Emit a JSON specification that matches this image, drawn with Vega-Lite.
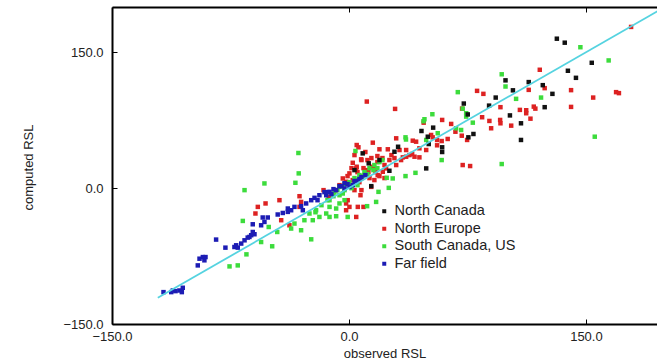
{
  "$schema": "https://vega.github.io/schema/vega-lite/v6.json",
  "width": 545,
  "height": 317,
  "autosize": "none",
  "padding": {"left": 112, "top": 7, "right": 0, "bottom": 38},
  "background": "white",
  "config": {
    "view": {"stroke": null},
    "font": "Liberation Sans",
    "axis": {
      "domainColor": "#000000",
      "domainWidth": 2,
      "tickColor": "#000000",
      "tickWidth": 1,
      "tickSize": -5,
      "grid": false,
      "labelFont": "Liberation Sans",
      "labelFontSize": 13,
      "labelColor": "#222222",
      "labelFlush": false,
      "titleFont": "Liberation Sans",
      "titleFontSize": 13,
      "titleFontWeight": "normal",
      "titleColor": "#222222"
    },
    "legend": {
      "labelFont": "Liberation Sans",
      "labelFontSize": 14.5,
      "labelColor": "#222222",
      "symbolType": "square",
      "symbolSize": 16,
      "symbolStrokeWidth": 0,
      "rowPadding": 2.5,
      "labelOffset": 3,
      "padding": 0
    }
  },
  "datasets": {
    "pts": [
      {"observed": 178.6, "computed": 178.0, "region": "North Europe"},
      {"observed": 120.8, "computed": 130.7, "region": "North Europe"},
      {"observed": 113.8, "computed": 108.5, "region": "North Europe"},
      {"observed": 123.9, "computed": 110.4, "region": "North Europe"},
      {"observed": 140.6, "computed": 108.2, "region": "North Europe"},
      {"observed": 169.1, "computed": 106.0, "region": "North Europe"},
      {"observed": 170.9, "computed": 104.9, "region": "North Europe"},
      {"observed": 154.6, "computed": 100.0, "region": "North Europe"},
      {"observed": 140.6, "computed": 89.7, "region": "North Europe"},
      {"observed": 117.0, "computed": 90.0, "region": "North Europe"},
      {"observed": 118.0, "computed": 87.8, "region": "North Europe"},
      {"observed": 112.2, "computed": 86.0, "region": "North Europe"},
      {"observed": 112.2, "computed": 82.7, "region": "North Europe"},
      {"observed": 114.9, "computed": 76.7, "region": "North Europe"},
      {"observed": 108.2, "computed": 86.4, "region": "North Europe"},
      {"observed": 81.1, "computed": 107.4, "region": "North Europe"},
      {"observed": 85.1, "computed": 104.1, "region": "North Europe"},
      {"observed": 95.9, "computed": 89.4, "region": "North Europe"},
      {"observed": 102.7, "computed": 69.0, "region": "North Europe"},
      {"observed": 84.3, "computed": 78.3, "region": "North Europe"},
      {"observed": 88.9, "computed": 74.2, "region": "North Europe"},
      {"observed": 95.7, "computed": 75.3, "region": "North Europe"},
      {"observed": 95.9, "computed": 71.6, "region": "North Europe"},
      {"observed": 90.0, "computed": 66.1, "region": "North Europe"},
      {"observed": 59.0, "computed": 75.3, "region": "North Europe"},
      {"observed": 64.7, "computed": 70.9, "region": "North Europe"},
      {"observed": 47.3, "computed": 72.3, "region": "North Europe"},
      {"observed": 71.4, "computed": 57.9, "region": "North Europe"},
      {"observed": 67.4, "computed": 62.3, "region": "North Europe"},
      {"observed": 62.5, "computed": 54.3, "region": "North Europe"},
      {"observed": 55.8, "computed": 53.2, "region": "North Europe"},
      {"observed": 53.0, "computed": 56.1, "region": "North Europe"},
      {"observed": 40.4, "computed": 52.4, "region": "North Europe"},
      {"observed": 42.5, "computed": 51.3, "region": "North Europe"},
      {"observed": 36.2, "computed": 42.1, "region": "North Europe"},
      {"observed": 38.3, "computed": 36.5, "region": "North Europe"},
      {"observed": 41.5, "computed": 34.7, "region": "North Europe"},
      {"observed": 44.6, "computed": 34.0, "region": "North Europe"},
      {"observed": 34.1, "computed": 34.0, "region": "North Europe"},
      {"observed": 55.8, "computed": 47.3, "region": "North Europe"},
      {"observed": 58.7, "computed": 52.0, "region": "North Europe"},
      {"observed": 74.8, "computed": 53.2, "region": "North Europe"},
      {"observed": 72.0, "computed": 25.5, "region": "North Europe"},
      {"observed": 76.7, "computed": 24.4, "region": "North Europe"},
      {"observed": 71.6, "computed": 87.8, "region": "North Europe"},
      {"observed": 11.3, "computed": 95.6, "region": "North Europe"},
      {"observed": 29.2, "computed": 87.5, "region": "North Europe"},
      {"observed": 4.9, "computed": 47.6, "region": "North Europe"},
      {"observed": 6.0, "computed": 45.1, "region": "North Europe"},
      {"observed": 15.1, "computed": 50.2, "region": "North Europe"},
      {"observed": 29.9, "computed": 55.0, "region": "North Europe"},
      {"observed": 19.3, "computed": 42.9, "region": "North Europe"},
      {"observed": 24.6, "computed": 42.9, "region": "North Europe"},
      {"observed": 7.7, "computed": 31.8, "region": "North Europe"},
      {"observed": 2.4, "computed": 28.0, "region": "North Europe"},
      {"observed": 4.9, "computed": 23.6, "region": "North Europe"},
      {"observed": 10.9, "computed": 19.9, "region": "North Europe"},
      {"observed": 14.7, "computed": 23.6, "region": "North Europe"},
      {"observed": 0.3, "computed": 16.3, "region": "North Europe"},
      {"observed": -3.9, "computed": 10.7, "region": "North Europe"},
      {"observed": -1.8, "computed": 7.0, "region": "North Europe"},
      {"observed": 52.0, "computed": 58.7, "region": "North Europe"},
      {"observed": 48.9, "computed": 42.1, "region": "North Europe"},
      {"observed": 44.6, "computed": 44.0, "region": "North Europe"},
      {"observed": 40.0, "computed": 37.7, "region": "North Europe"},
      {"observed": 36.2, "computed": 34.7, "region": "North Europe"},
      {"observed": 33.0, "computed": 31.0, "region": "North Europe"},
      {"observed": 29.9, "computed": 25.5, "region": "North Europe"},
      {"observed": 23.5, "computed": 21.8, "region": "North Europe"},
      {"observed": 18.2, "computed": 14.4, "region": "North Europe"},
      {"observed": 21.4, "computed": 18.1, "region": "North Europe"},
      {"observed": 14.1, "computed": 1.4, "region": "North Europe"},
      {"observed": -16.1, "computed": -2.2, "region": "North Europe"},
      {"observed": -12.8, "computed": -9.6, "region": "North Europe"},
      {"observed": -0.8, "computed": -13.3, "region": "North Europe"},
      {"observed": 0.3, "computed": -20.7, "region": "North Europe"},
      {"observed": 9.2, "computed": -20.7, "region": "North Europe"},
      {"observed": -1.8, "computed": -24.4, "region": "North Europe"},
      {"observed": 4.6, "computed": -31.8, "region": "North Europe"},
      {"observed": 5.6, "computed": -20.7, "region": "North Europe"},
      {"observed": -1.8, "computed": -16.9, "region": "North Europe"},
      {"observed": 4.6, "computed": 21.8, "region": "North Europe"},
      {"observed": 2.4, "computed": 8.9, "region": "North Europe"},
      {"observed": -31.3, "computed": -8.9, "region": "North Europe"},
      {"observed": -30.3, "computed": -15.2, "region": "North Europe"},
      {"observed": -31.3, "computed": -20.7, "region": "North Europe"},
      {"observed": -37.7, "computed": -41.0, "region": "North Europe"},
      {"observed": -57.7, "computed": -20.7, "region": "North Europe"},
      {"observed": -52.8, "computed": -16.9, "region": "North Europe"},
      {"observed": -44.0, "computed": -13.3, "region": "North Europe"},
      {"observed": -59.2, "computed": -28.0, "region": "North Europe"},
      {"observed": -42.9, "computed": -35.4, "region": "North Europe"},
      {"observed": 9.8, "computed": 14.4, "region": "North Europe"},
      {"observed": 13.0, "computed": 11.1, "region": "North Europe"},
      {"observed": 16.1, "computed": 8.9, "region": "North Europe"},
      {"observed": 6.6, "computed": 6.6, "region": "North Europe"},
      {"observed": 7.9, "computed": 11.1, "region": "North Europe"},
      {"observed": 11.7, "computed": 31.0, "region": "North Europe"},
      {"observed": 18.0, "computed": 28.8, "region": "North Europe"},
      {"observed": 21.2, "computed": 33.2, "region": "North Europe"},
      {"observed": 26.9, "computed": 36.5, "region": "North Europe"},
      {"observed": -6.0, "computed": 3.3, "region": "North Europe"},
      {"observed": -8.5, "computed": -2.2, "region": "North Europe"},
      {"observed": 7.9, "computed": -2.2, "region": "North Europe"},
      {"observed": 16.1, "computed": 22.1, "region": "North Europe"},
      {"observed": 3.5, "computed": 36.5, "region": "North Europe"},
      {"observed": 5.4, "computed": 17.7, "region": "North Europe"},
      {"observed": 9.2, "computed": 22.1, "region": "North Europe"},
      {"observed": 12.3, "computed": 17.7, "region": "North Europe"},
      {"observed": 16.8, "computed": 17.7, "region": "North Europe"},
      {"observed": 19.3, "computed": 13.3, "region": "North Europe"},
      {"observed": 22.5, "computed": 25.5, "region": "North Europe"},
      {"observed": 25.6, "computed": 31.0, "region": "North Europe"},
      {"observed": 18.0, "computed": 35.4, "region": "North Europe"},
      {"observed": 14.2, "computed": 33.2, "region": "North Europe"},
      {"observed": 10.4, "computed": 39.9, "region": "North Europe"},
      {"observed": 1.6, "computed": 22.1, "region": "North Europe"},
      {"observed": -0.9, "computed": 13.3, "region": "North Europe"},
      {"observed": 28.8, "computed": 33.2, "region": "North Europe"},
      {"observed": 32.0, "computed": 42.1, "region": "North Europe"},
      {"observed": 22.5, "computed": 11.1, "region": "North Europe"},
      {"observed": 7.9, "computed": 31.0, "region": "North Europe"},
      {"observed": 3.5, "computed": -2.2, "region": "North Europe"},
      {"observed": 7.3, "computed": -7.8, "region": "North Europe"},
      {"observed": 146.5, "computed": 155.6, "region": "South Canada, US"},
      {"observed": 164.4, "computed": 141.0, "region": "South Canada, US"},
      {"observed": 121.6, "computed": 100.0, "region": "South Canada, US"},
      {"observed": 155.6, "computed": 56.8, "region": "South Canada, US"},
      {"observed": 96.7, "computed": 125.7, "region": "South Canada, US"},
      {"observed": 99.1, "computed": 112.2, "region": "South Canada, US"},
      {"observed": 68.9, "computed": 106.0, "region": "South Canada, US"},
      {"observed": 105.8, "computed": 98.6, "region": "South Canada, US"},
      {"observed": 52.8, "computed": 81.6, "region": "South Canada, US"},
      {"observed": 47.8, "computed": 76.1, "region": "South Canada, US"},
      {"observed": 47.2, "computed": 73.9, "region": "South Canada, US"},
      {"observed": 72.0, "computed": 87.8, "region": "South Canada, US"},
      {"observed": 74.2, "computed": 79.0, "region": "South Canada, US"},
      {"observed": 78.4, "computed": 72.3, "region": "South Canada, US"},
      {"observed": 67.8, "computed": 66.1, "region": "South Canada, US"},
      {"observed": 71.0, "computed": 64.2, "region": "South Canada, US"},
      {"observed": 56.2, "computed": 60.6, "region": "South Canada, US"},
      {"observed": 35.8, "computed": 56.1, "region": "South Canada, US"},
      {"observed": 36.1, "computed": 53.7, "region": "South Canada, US"},
      {"observed": 48.9, "computed": 53.2, "region": "South Canada, US"},
      {"observed": 58.7, "computed": 31.0, "region": "South Canada, US"},
      {"observed": 96.7, "computed": 26.6, "region": "South Canada, US"},
      {"observed": 74.2, "computed": 82.7, "region": "South Canada, US"},
      {"observed": 4.1, "computed": 41.0, "region": "South Canada, US"},
      {"observed": 23.9, "computed": 11.4, "region": "South Canada, US"},
      {"observed": 27.7, "computed": 10.7, "region": "South Canada, US"},
      {"observed": 35.8, "computed": 13.3, "region": "South Canada, US"},
      {"observed": 42.1, "computed": 16.9, "region": "South Canada, US"},
      {"observed": 18.7, "computed": -4.1, "region": "South Canada, US"},
      {"observed": 25.2, "computed": 0.3, "region": "South Canada, US"},
      {"observed": 11.5, "computed": -19.9, "region": "South Canada, US"},
      {"observed": 17.2, "computed": -15.2, "region": "South Canada, US"},
      {"observed": -6.0, "computed": 1.4, "region": "South Canada, US"},
      {"observed": -2.8, "computed": 4.4, "region": "South Canada, US"},
      {"observed": 0.3, "computed": 6.6, "region": "South Canada, US"},
      {"observed": 3.5, "computed": 11.1, "region": "South Canada, US"},
      {"observed": 6.6, "computed": 14.4, "region": "South Canada, US"},
      {"observed": 9.8, "computed": 17.7, "region": "South Canada, US"},
      {"observed": 13.0, "computed": 22.1, "region": "South Canada, US"},
      {"observed": 16.1, "computed": 25.5, "region": "South Canada, US"},
      {"observed": 19.3, "computed": 28.8, "region": "South Canada, US"},
      {"observed": 21.2, "computed": 31.0, "region": "South Canada, US"},
      {"observed": -7.3, "computed": -2.2, "region": "South Canada, US"},
      {"observed": -9.2, "computed": -4.4, "region": "South Canada, US"},
      {"observed": 1.6, "computed": 0.0, "region": "South Canada, US"},
      {"observed": 5.4, "computed": 3.3, "region": "South Canada, US"},
      {"observed": -2.8, "computed": -2.2, "region": "South Canada, US"},
      {"observed": 1.6, "computed": 2.2, "region": "South Canada, US"},
      {"observed": 5.4, "computed": 8.9, "region": "South Canada, US"},
      {"observed": 8.5, "computed": 13.3, "region": "South Canada, US"},
      {"observed": 11.7, "computed": 15.5, "region": "South Canada, US"},
      {"observed": 15.5, "computed": 19.9, "region": "South Canada, US"},
      {"observed": 18.0, "computed": 22.1, "region": "South Canada, US"},
      {"observed": -9.8, "computed": -8.9, "region": "South Canada, US"},
      {"observed": -13.6, "computed": -13.3, "region": "South Canada, US"},
      {"observed": -17.4, "computed": -18.8, "region": "South Canada, US"},
      {"observed": -21.2, "computed": -26.6, "region": "South Canada, US"},
      {"observed": -6.0, "computed": -7.8, "region": "South Canada, US"},
      {"observed": -31.8, "computed": 16.3, "region": "South Canada, US"},
      {"observed": -32.0, "computed": 38.8, "region": "South Canada, US"},
      {"observed": -53.5, "computed": 5.2, "region": "South Canada, US"},
      {"observed": -33.9, "computed": 5.9, "region": "South Canada, US"},
      {"observed": -66.1, "computed": -2.2, "region": "South Canada, US"},
      {"observed": -67.2, "computed": -36.2, "region": "South Canada, US"},
      {"observed": -50.8, "computed": -42.9, "region": "South Canada, US"},
      {"observed": -45.4, "computed": -48.4, "region": "South Canada, US"},
      {"observed": -55.6, "computed": -59.5, "region": "South Canada, US"},
      {"observed": -48.6, "computed": -64.2, "region": "South Canada, US"},
      {"observed": -23.9, "computed": -56.5, "region": "South Canada, US"},
      {"observed": -64.9, "computed": -73.1, "region": "South Canada, US"},
      {"observed": -75.6, "computed": -86.4, "region": "South Canada, US"},
      {"observed": -70.4, "computed": -85.3, "region": "South Canada, US"},
      {"observed": -30.3, "computed": -46.5, "region": "South Canada, US"},
      {"observed": -36.6, "computed": -44.6, "region": "South Canada, US"},
      {"observed": -34.5, "computed": -39.1, "region": "South Canada, US"},
      {"observed": -28.2, "computed": -35.4, "region": "South Canada, US"},
      {"observed": -22.9, "computed": -35.4, "region": "South Canada, US"},
      {"observed": -18.7, "computed": -31.8, "region": "South Canada, US"},
      {"observed": -14.4, "computed": -28.0, "region": "South Canada, US"},
      {"observed": -12.3, "computed": -31.8, "region": "South Canada, US"},
      {"observed": -8.1, "computed": -31.0, "region": "South Canada, US"},
      {"observed": -0.8, "computed": -31.8, "region": "South Canada, US"},
      {"observed": -25.0, "computed": -28.0, "region": "South Canada, US"},
      {"observed": -20.8, "computed": -24.4, "region": "South Canada, US"},
      {"observed": -12.3, "computed": -20.7, "region": "South Canada, US"},
      {"observed": -8.1, "computed": -22.5, "region": "South Canada, US"},
      {"observed": -6.0, "computed": -16.9, "region": "South Canada, US"},
      {"observed": -2.8, "computed": -13.3, "region": "South Canada, US"},
      {"observed": -3.9, "computed": -5.9, "region": "South Canada, US"},
      {"observed": -12.3, "computed": -13.3, "region": "South Canada, US"},
      {"observed": -117.4, "computed": -114.8, "region": "Far field"},
      {"observed": -112.5, "computed": -114.8, "region": "Far field"},
      {"observed": -111.5, "computed": -113.0, "region": "Far field"},
      {"observed": -109.8, "computed": -113.7, "region": "Far field"},
      {"observed": -107.3, "computed": -113.0, "region": "Far field"},
      {"observed": -105.8, "computed": -114.8, "region": "Far field"},
      {"observed": -105.2, "computed": -110.0, "region": "Far field"},
      {"observed": -95.7, "computed": -85.3, "region": "Far field"},
      {"observed": -94.6, "computed": -77.9, "region": "Far field"},
      {"observed": -92.5, "computed": -76.1, "region": "Far field"},
      {"observed": -90.8, "computed": -76.1, "region": "Far field"},
      {"observed": -91.5, "computed": -79.7, "region": "Far field"},
      {"observed": -84.1, "computed": -56.8, "region": "Far field"},
      {"observed": -78.2, "computed": -65.7, "region": "Far field"},
      {"observed": -72.5, "computed": -65.0, "region": "Far field"},
      {"observed": -71.4, "computed": -63.1, "region": "Far field"},
      {"observed": -70.4, "computed": -65.7, "region": "Far field"},
      {"observed": -68.2, "computed": -61.2, "region": "Far field"},
      {"observed": -66.1, "computed": -57.6, "region": "Far field"},
      {"observed": -64.1, "computed": -54.6, "region": "Far field"},
      {"observed": -63.0, "computed": -53.9, "region": "Far field"},
      {"observed": -61.9, "computed": -52.0, "region": "Far field"},
      {"observed": -60.9, "computed": -48.4, "region": "Far field"},
      {"observed": -59.8, "computed": -50.9, "region": "Far field"},
      {"observed": -55.6, "computed": -41.0, "region": "Far field"},
      {"observed": -60.9, "computed": -39.9, "region": "Far field"},
      {"observed": -53.5, "computed": -37.3, "region": "Far field"},
      {"observed": -51.4, "computed": -32.4, "region": "Far field"},
      {"observed": -54.6, "computed": -32.4, "region": "Far field"},
      {"observed": -45.1, "computed": -29.1, "region": "Far field"},
      {"observed": -41.9, "computed": -27.4, "region": "Far field"},
      {"observed": -38.7, "computed": -26.2, "region": "Far field"},
      {"observed": -36.6, "computed": -24.4, "region": "Far field"},
      {"observed": -38.7, "computed": -22.5, "region": "Far field"},
      {"observed": -34.5, "computed": -20.7, "region": "Far field"},
      {"observed": -30.3, "computed": -19.9, "region": "Far field"},
      {"observed": -27.1, "computed": -16.9, "region": "Far field"},
      {"observed": -23.9, "computed": -13.3, "region": "Far field"},
      {"observed": -21.8, "computed": -10.7, "region": "Far field"},
      {"observed": -29.2, "computed": -24.4, "region": "Far field"},
      {"observed": -12.3, "computed": -4.1, "region": "Far field"},
      {"observed": -8.1, "computed": -2.2, "region": "Far field"},
      {"observed": -2.8, "computed": -0.3, "region": "Far field"},
      {"observed": 0.3, "computed": 1.4, "region": "Far field"},
      {"observed": 2.4, "computed": 3.3, "region": "Far field"},
      {"observed": -14.4, "computed": -7.8, "region": "Far field"},
      {"observed": -18.7, "computed": -7.8, "region": "Far field"},
      {"observed": -15.5, "computed": -4.4, "region": "Far field"},
      {"observed": -6.0, "computed": 2.2, "region": "Far field"},
      {"observed": -2.8, "computed": 5.5, "region": "Far field"},
      {"observed": -11.1, "computed": -6.6, "region": "Far field"},
      {"observed": -19.9, "computed": -13.3, "region": "Far field"},
      {"observed": 4.7, "computed": 7.8, "region": "Far field"},
      {"observed": 6.6, "computed": 10.0, "region": "Far field"},
      {"observed": -13.6, "computed": -4.4, "region": "Far field"},
      {"observed": -9.8, "computed": -1.1, "region": "Far field"},
      {"observed": -4.7, "computed": 2.2, "region": "Far field"},
      {"observed": -0.9, "computed": 4.4, "region": "Far field"},
      {"observed": 3.5, "computed": 7.8, "region": "Far field"},
      {"observed": 7.9, "computed": 12.2, "region": "Far field"},
      {"observed": 10.4, "computed": 14.4, "region": "Far field"},
      {"observed": 131.6, "computed": 165.0, "region": "North Canada"},
      {"observed": 136.6, "computed": 160.6, "region": "North Canada"},
      {"observed": 153.7, "computed": 138.4, "region": "North Canada"},
      {"observed": 138.6, "computed": 129.6, "region": "North Canada"},
      {"observed": 143.7, "computed": 121.8, "region": "North Canada"},
      {"observed": 113.8, "computed": 117.1, "region": "North Canada"},
      {"observed": 122.7, "computed": 113.7, "region": "North Canada"},
      {"observed": 128.8, "computed": 104.1, "region": "North Canada"},
      {"observed": 123.9, "computed": 89.4, "region": "North Canada"},
      {"observed": 108.9, "computed": 71.6, "region": "North Canada"},
      {"observed": 108.9, "computed": 53.2, "region": "North Canada"},
      {"observed": 99.1, "computed": 119.0, "region": "North Canada"},
      {"observed": 103.8, "computed": 108.0, "region": "North Canada"},
      {"observed": 92.9, "computed": 100.0, "region": "North Canada"},
      {"observed": 88.7, "computed": 91.1, "region": "North Canada"},
      {"observed": 72.7, "computed": 93.4, "region": "North Canada"},
      {"observed": 75.2, "computed": 81.4, "region": "North Canada"},
      {"observed": 101.9, "computed": 80.3, "region": "North Canada"},
      {"observed": 53.3, "computed": 66.8, "region": "North Canada"},
      {"observed": 45.9, "computed": 63.1, "region": "North Canada"},
      {"observed": 78.8, "computed": 59.8, "region": "North Canada"},
      {"observed": 75.6, "computed": 56.1, "region": "North Canada"},
      {"observed": 50.5, "computed": 48.7, "region": "North Canada"},
      {"observed": 59.0, "computed": 45.1, "region": "North Canada"},
      {"observed": 59.0, "computed": 39.9, "region": "North Canada"},
      {"observed": 48.9, "computed": 21.8, "region": "North Canada"},
      {"observed": 8.7, "computed": 38.4, "region": "North Canada"},
      {"observed": 31.1, "computed": 45.7, "region": "North Canada"},
      {"observed": 28.8, "computed": 40.2, "region": "North Canada"},
      {"observed": 49.9, "computed": 56.8, "region": "North Canada"},
      {"observed": 12.5, "computed": 27.4, "region": "North Canada"},
      {"observed": 25.6, "computed": 19.2, "region": "North Canada"},
      {"observed": 14.1, "computed": 2.2, "region": "North Canada"},
      {"observed": 19.3, "computed": 31.0, "region": "North Canada"},
      {"observed": 3.5, "computed": 19.9, "region": "North Canada"}
    ],
    "fit": [
      {"observed": -121, "computed": -121},
      {"observed": 205, "computed": 205}
    ]
  },
  "layer": [
    {
      "data": {"name": "pts"},
      "mark": {"type": "square", "size": 20, "opacity": 1, "filled": true, "clip": true},
      "encoding": {
        "x": {
          "field": "observed", "type": "quantitative",
          "scale": {"domain": [-150, 195], "nice": false, "zero": false},
          "axis": {"orient": "bottom", "values": [-150, 0, 150], "format": ".1f", "labelPadding": 11, "title": "observed RSL", "titlePadding": 4}
        },
        "y": {
          "field": "computed", "type": "quantitative",
          "scale": {"domain": [-150, 200], "nice": false, "zero": false},
          "axis": {"orient": "left", "values": [-150, 0, 150], "format": ".1f", "labelPadding": 14, "title": "computed RSL", "titleX": -84, "titleY": 160, "titleBaseline": "middle", "titleAngle": -90}
        },
        "color": {
          "field": "region", "type": "nominal",
          "scale": {
            "domain": ["North Canada", "North Europe", "South Canada, US", "Far field"],
            "range": ["#111111", "#dd2222", "#3cdc3c", "#1c1cb4"]
          },
          "legend": {"title": null, "orient": "none", "legendX": 265, "legendY": 197}
        }
      }
    },
    {
      "data": {"name": "fit"},
      "mark": {"type": "line", "color": "#55d3e0", "strokeWidth": 1.8, "clip": true},
      "encoding": {
        "x": {
          "field": "observed", "type": "quantitative",
          "scale": {"domain": [-150, 195], "nice": false, "zero": false},
          "axis": {"orient": "top", "values": [-150, 0, 150], "labels": false, "title": null}
        },
        "y": {
          "field": "computed", "type": "quantitative",
          "scale": {"domain": [-150, 200], "nice": false, "zero": false}
        }
      }
    }
  ],
  "resolve": {"axis": {"x": "independent"}}
}
